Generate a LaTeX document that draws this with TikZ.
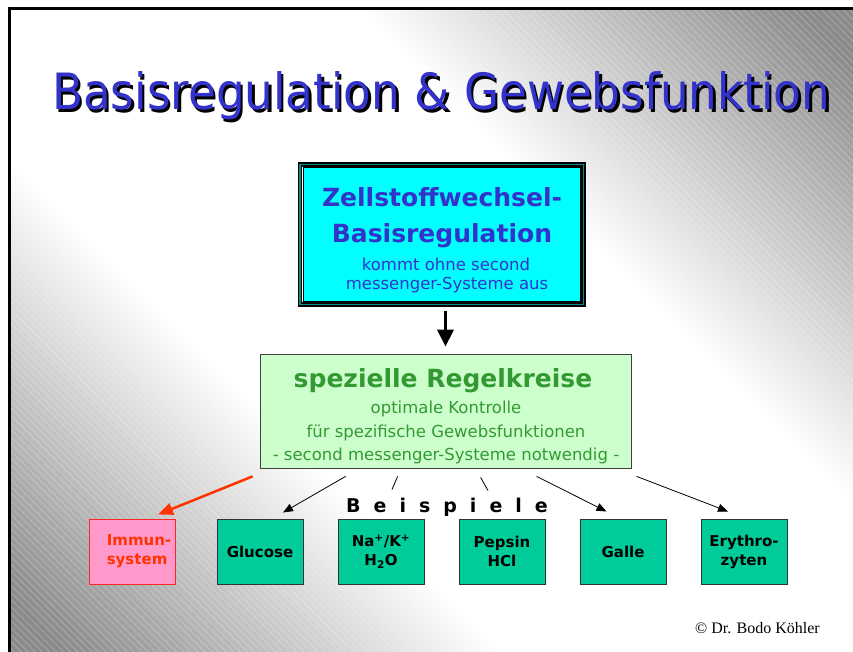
\documentclass[tikz,border=0pt]{standalone}
\usepackage{fontspec}
\usepackage{graphicx}
\setmainfont{DejaVu Sans}
\newfontfamily\titlefont{DejaVu Sans Condensed}
\newfontfamily\signfont{Liberation Serif}
\usetikzlibrary{positioning,arrows.meta,calc,patterns.meta}

\definecolor{titleblue}{RGB}{51,51,204}
\definecolor{boxcyan}{RGB}{0,255,255}
\definecolor{frameteal}{RGB}{0,140,140}
\definecolor{regelfill}{RGB}{204,255,204}
\definecolor{regeltext}{RGB}{51,153,51}
\definecolor{examplefill}{RGB}{0,204,153}
\definecolor{immunfill}{RGB}{255,153,204}
\definecolor{immunred}{RGB}{255,51,0}
\definecolor{bggray}{RGB}{138,138,138}

\pgfdeclareverticalshading{slidebg}{100bp}{color(0bp)=(bggray); color(17bp)=(bggray); color(38bp)=(white); color(62bp)=(white); color(83bp)=(bggray); color(100bp)=(bggray)}

\newcommand{\slidetitle}{\resizebox{778pt}{38pt}{\titlefont Basisregulation \& Gewebsfunktion}}
\newcommand{\gap}{\hspace{13pt}}

\begin{document}
\begin{tikzpicture}[x=1pt, y=-1pt,
        titletext/.style={anchor=base west, inner sep=0pt, text=titleblue},
        basisbox/.style={draw=black, line width=1pt, fill=boxcyan,
            minimum width=277pt, minimum height=133pt},
        basishead/.style={anchor=base, inner sep=0pt, text=titleblue,
            font=\bfseries\fontsize{25}{25}\selectfont},
        basisnote/.style={anchor=base, inner sep=0pt, text=titleblue,
            font=\fontsize{16.5}{16.5}\selectfont},
        regelbox/.style={draw=black!75, line width=0.8pt, fill=regelfill,
            minimum width=371pt, minimum height=114pt},
        regelhead/.style={basishead, text=regeltext},
        regelnote/.style={basisnote, text=regeltext},
        beispiel/.style={anchor=base, inner sep=0pt, font=\bfseries\fontsize{19}{19}\selectfont},
        example/.style={draw=black!80, line width=1pt, fill=examplefill,
            minimum width=86pt, minimum height=65pt, inner sep=0pt, align=center,
            font=\bfseries\fontsize{15}{19}\selectfont},
        immun/.style={example, draw=red!85, fill=immunfill, text=immunred, align=left},
        downarrow/.style={line width=3.5pt, -{Triangle[length=17pt,width=16pt]}},
        redpointer/.style={immunred, line width=2.5pt, -{Triangle[length=15pt,width=12pt]}},
        pointer/.style={line width=0.8pt, -{Triangle[length=10pt,width=8pt]}},
        tickline/.style={line width=0.8pt},
        sign/.style={anchor=base east, inner sep=0pt, font=\signfont\fontsize{16}{16}\selectfont}
    ]
    \useasboundingbox (0,0) rectangle (853,652);

    % slide background
    \fill[white] (0,0) rectangle (853,652);
    \shade[shading=slidebg, shading angle=-45] (9.7,8.7) rectangle (853,652);
    \fill[pattern={Lines[angle=-45,distance=5pt,line width=0.8pt]}, pattern color=white,
        opacity=0.25] (9.7,8.7) rectangle (853,652);
    \draw[line width=2.7pt] (853,8.7) -| (9.7,652);

    % title with shadow
    \node[titletext, text=black] (titleshadow) at (54.5,112.5) {\slidetitle};
    \node[titletext] (title) at (52,110) {\slidetitle};

    % top box
    \node[basisbox] (basis) at (441.5,234.5) {};
    \draw[line width=1.5pt, double=frameteal, double distance=1.5pt]
        ($(basis.south west)+(-2.75,2.75)$) rectangle ($(basis.north east)+(2.75,-2.75)$);
    \node[basishead] (basis1) at (442,207) {Zellstoffwechsel-};
    \node[basishead] (basis2) at (442,243) {Basisregulation};
    \node[basisnote] (basis3) at (446,270) {kommt ohne second};
    \node[basisnote] (basis4) at (447,289) {messenger-Systeme aus};

    % middle box
    \node[regelbox] (regel) at (445.5,411) {};
    \node[regelhead] (regel1) at (443,387) {spezielle Regelkreise};
    \node[regelnote] (regel2) at (446,413) {optimale Kontrolle};
    \node[regelnote] (regel3) at (446,437) {für spezifische Gewebsfunktionen};
    \node[regelnote] (regel4) at (446,460) {- second messenger-Systeme notwendig -};

    \draw[downarrow, shorten <=9pt, shorten >=7pt] (basis.south -| regel.north) -- (regel.north);

    \node[beispiel] (beispiele) at (447,512) {B\gap e\gap i\gap s\gap p\gap i\gap e\gap l\gap e};

    % examples
    \node[immun] (immun) at (132,551.5) {\hspace{14pt}Immun-\\\hspace{14pt}system};
    \node[example, right=41pt of immun] (glucose) {Glucose};
    \node[example, right=34pt of glucose] (natrium) {Na\textsuperscript{+}/K\textsuperscript{+}\\H\textsubscript{2}O};
    \node[example, right=34pt of natrium] (pepsin) {Pepsin\\HCl};
    \node[example, right=34pt of pepsin] (galle) {Galle};
    \node[example, right=34pt of galle] (erythro) {Erythro-\\zyten};

    % connectors
    \coordinate (immunfrom) at ($(regel.south west)+(-7,8)$);
    \coordinate (immunto) at ($(immun.north)+(26,-4)$);
    \coordinate (glucosefrom) at ($(regel.south west)+(86,8)$);
    \coordinate (glucoseto) at ($(glucose.north)+(23,-6)$);
    \coordinate (natriumfrom) at ($(regel.south west)+(138,8)$);
    \coordinate (natriumto) at ($(natrium.north)+(11,-29)$);
    \coordinate (pepsinfrom) at ($(regel.south west)+(221,9)$);
    \coordinate (pepsinto) at ($(pepsin.north)+(-14,-28)$);
    \coordinate (gallefrom) at ($(regel.south west)+(277,8)$);
    \coordinate (galleto) at ($(galle.north)+(-16.5,-7)$);
    \coordinate (erythrofrom) at ($(regel.south west)+(377,8)$);
    \coordinate (erythroto) at ($(erythro.north)+(-16,-7)$);

    \draw[redpointer] (immunfrom) -- (immunto);
    \draw[pointer] (glucosefrom) -- (glucoseto);
    \draw[tickline] (natriumfrom) -- (natriumto);
    \draw[tickline] (pepsinfrom) -- (pepsinto);
    \draw[pointer] (gallefrom) -- (galleto);
    \draw[pointer] (erythrofrom) -- (erythroto);

    \node[sign] (sign) at (820,633) {© Dr. Bodo Köhler};
\end{tikzpicture}
\end{document}
